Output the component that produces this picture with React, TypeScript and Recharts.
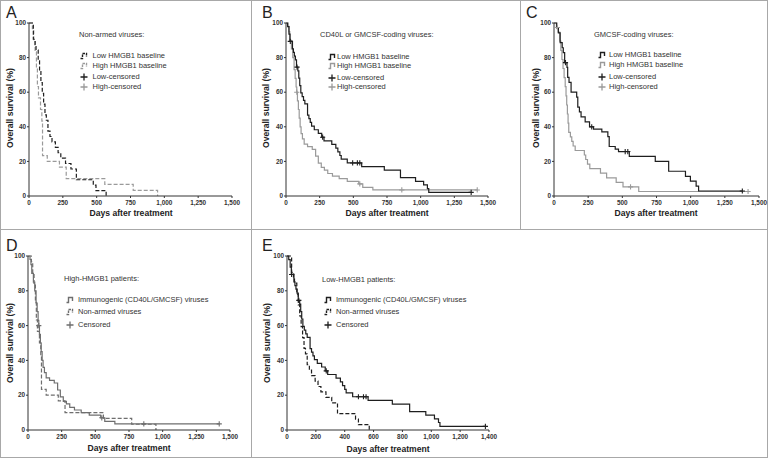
import React from 'react';
import { LineChart, Line, XAxis, YAxis } from 'recharts';

type Pt = { x: number; y: number };

// ---- Data (days after treatment, overall survival %) ----
const lowNonArmed: Pt[] = [
  { x: 0, y: 100 }, { x: 32, y: 90.6 }, { x: 45, y: 87.5 }, { x: 52, y: 84.4 }, { x: 68, y: 78.1 },
  { x: 78, y: 71.9 }, { x: 88, y: 65.6 }, { x: 98, y: 59.4 }, { x: 108, y: 53.1 }, { x: 118, y: 46.9 },
  { x: 128, y: 43.8 }, { x: 140, y: 37.5 }, { x: 155, y: 34.4 }, { x: 170, y: 31.3 }, { x: 195, y: 28.1 },
  { x: 215, y: 25 }, { x: 235, y: 21.9 }, { x: 270, y: 18.8 }, { x: 310, y: 15.6 }, { x: 350, y: 9.4 },
  { x: 475, y: 6.3 }, { x: 495, y: 3.1 }, { x: 570, y: 0 },
];
const highNonArmed: Pt[] = [
  { x: 0, y: 100 }, { x: 25, y: 96.7 }, { x: 35, y: 90 }, { x: 45, y: 83.3 }, { x: 55, y: 73.3 },
  { x: 62, y: 63.3 }, { x: 70, y: 56.7 }, { x: 85, y: 50 }, { x: 95, y: 43.3 }, { x: 100, y: 23.3 },
  { x: 135, y: 20 }, { x: 225, y: 16.7 }, { x: 275, y: 10 }, { x: 560, y: 6.7 }, { x: 770, y: 3.3 },
  { x: 950, y: 0 },
];
const lowImmuno: Pt[] = [
  { x: 0, y: 100 }, { x: 12, y: 97.9 }, { x: 22, y: 93.6 }, { x: 30, y: 89.4 }, { x: 48, y: 85.1 },
  { x: 55, y: 83 }, { x: 62, y: 80.9 }, { x: 70, y: 78.7 }, { x: 78, y: 74.5 }, { x: 88, y: 72.3 },
  { x: 95, y: 68.1 }, { x: 102, y: 63.8 }, { x: 110, y: 59.6 }, { x: 120, y: 57.4 }, { x: 130, y: 55.3 },
  { x: 140, y: 53.2 }, { x: 160, y: 46.8 }, { x: 170, y: 44.7 }, { x: 180, y: 42.6 }, { x: 190, y: 40.4 },
  { x: 210, y: 38.3 }, { x: 240, y: 36.2 }, { x: 265, y: 34 }, { x: 282, y: 31.9 }, { x: 340, y: 29.8 },
  { x: 370, y: 27.7 }, { x: 385, y: 25.5 }, { x: 400, y: 23.4 }, { x: 410, y: 21.3 }, { x: 455, y: 19.1 },
  { x: 562, y: 17 }, { x: 730, y: 14.9 }, { x: 850, y: 10.6 }, { x: 962, y: 8.5 }, { x: 1022, y: 6.4 },
  { x: 1050, y: 4.3 }, { x: 1060, y: 2.1 }, { x: 1375, y: 2.1 },
];
const lowImmunoCensor: Pt[] = [
  { x: 32, y: 89.4 }, { x: 82, y: 74.5 }, { x: 272, y: 34 }, { x: 495, y: 19.1 }, { x: 530, y: 19.1 },
  { x: 548, y: 19.1 }, { x: 1375, y: 2.1 },
];
const highImmuno: Pt[] = [
  { x: 0, y: 100 }, { x: 15, y: 98 }, { x: 22, y: 95 }, { x: 28, y: 90 }, { x: 40, y: 85 },
  { x: 50, y: 80 }, { x: 60, y: 73 }, { x: 68, y: 68 }, { x: 75, y: 63 }, { x: 80, y: 60 },
  { x: 85, y: 55 }, { x: 92, y: 50 }, { x: 98, y: 45 }, { x: 105, y: 40 }, { x: 112, y: 36 },
  { x: 122, y: 33 }, { x: 135, y: 30 }, { x: 160, y: 28.5 }, { x: 195, y: 27 }, { x: 220, y: 23 },
  { x: 240, y: 19 }, { x: 262, y: 16.5 }, { x: 285, y: 15 }, { x: 310, y: 13 }, { x: 345, y: 11.5 },
  { x: 395, y: 10 }, { x: 455, y: 8.5 }, { x: 540, y: 7 }, { x: 570, y: 5 }, { x: 645, y: 3.5 },
  { x: 1420, y: 3.5 },
];
const highImmunoCensor: Pt[] = [
  { x: 80, y: 60 }, { x: 548, y: 7 }, { x: 860, y: 3.5 }, { x: 1420, y: 3.5 },
];
const lowGmcsf: Pt[] = [
  { x: 0, y: 100 }, { x: 20, y: 97.1 }, { x: 32, y: 94.3 }, { x: 45, y: 88.6 }, { x: 60, y: 85.7 },
  { x: 68, y: 82.9 }, { x: 78, y: 77.1 }, { x: 95, y: 74.3 }, { x: 100, y: 68.6 }, { x: 110, y: 65.7 },
  { x: 125, y: 60 }, { x: 166, y: 57.1 }, { x: 174, y: 51.4 }, { x: 186, y: 48.6 }, { x: 198, y: 45.7 },
  { x: 228, y: 42.9 }, { x: 260, y: 40 }, { x: 289, y: 38.6 }, { x: 350, y: 37.1 }, { x: 394, y: 34.3 },
  { x: 404, y: 28.6 }, { x: 448, y: 27.1 }, { x: 472, y: 25.7 }, { x: 551, y: 22.9 }, { x: 741, y: 20 },
  { x: 839, y: 14.3 }, { x: 962, y: 11.4 }, { x: 998, y: 8.6 }, { x: 1040, y: 5.7 }, { x: 1058, y: 2.9 },
  { x: 1378, y: 2.9 },
];
const lowGmcsfCensor: Pt[] = [
  { x: 84, y: 77.1 }, { x: 276, y: 40 }, { x: 521, y: 25.7 }, { x: 540, y: 25.7 }, { x: 1378, y: 2.9 },
];
const highGmcsf: Pt[] = [
  { x: 0, y: 100 }, { x: 18, y: 97.4 }, { x: 30, y: 94.7 }, { x: 42, y: 89.5 }, { x: 50, y: 84.2 },
  { x: 58, y: 78.9 }, { x: 66, y: 73.7 }, { x: 74, y: 68.4 }, { x: 82, y: 63.2 }, { x: 88, y: 57.9 },
  { x: 93, y: 52.6 }, { x: 98, y: 47.4 }, { x: 103, y: 42.1 }, { x: 108, y: 36.8 }, { x: 120, y: 34.2 },
  { x: 130, y: 31.6 }, { x: 140, y: 28.9 }, { x: 155, y: 26.3 }, { x: 222, y: 23.7 }, { x: 232, y: 21.1 },
  { x: 245, y: 18.4 }, { x: 262, y: 15.8 }, { x: 340, y: 13.2 }, { x: 385, y: 10.5 }, { x: 455, y: 7.9 },
  { x: 505, y: 5.3 }, { x: 620, y: 2.6 }, { x: 1420, y: 2.6 },
];
const highGmcsfCensor: Pt[] = [
  { x: 25, y: 97.4 }, { x: 560, y: 5.3 }, { x: 1420, y: 2.6 },
];

const yTicks = [0, 20, 40, 60, 80, 100];
const xTicks1500 = [0, 250, 500, 750, 1000, 1250, 1500];
const xTicks1400 = [0, 200, 400, 600, 800, 1000, 1200, 1400];

const DARK = '#1e1e1e';
const GRAY = '#9a9a9a';
const MID = '#6e6e6e';
const FONT = '"Liberation Sans", Arial, sans-serif';

const fmt = (v: number) => v.toLocaleString('en-US');

type SeriesDef = { data: Pt[]; color: string; dashed?: boolean };
type CensorDef = { data: Pt[]; color: string };

const crossDot = (color: string) => (p: any) => {
  const { cx, cy, index } = p;
  if (cx == null || cy == null) return <g key={index} />;
  return (
    <path key={index} d={`M${cx - 2.6},${cy}h5.2M${cx},${cy - 2.6}v5.2`} stroke={color} strokeWidth={1.1} fill="none" />
  );
};

const tickStyle = { fontSize: 6.4, fontWeight: 700, fill: '#333', fontFamily: FONT };

function Panel(props: {
  left: number; top: number; width: number; height: number;
  margin: { top: number; right: number; bottom: number; left: number };
  yAxisWidth: number; xMax: number; xTicks: number[];
  series: SeriesDef[]; censors: CensorDef[];
}) {
  const { left, top, width, height, margin, yAxisWidth, xMax, xTicks, series, censors } = props;
  return (
    <div style={{ position: 'absolute', left, top }}>
      <LineChart width={width} height={height} margin={margin}>
        <XAxis type="number" dataKey="x" domain={[0, xMax]} ticks={xTicks} interval={0}
          tickFormatter={fmt} tick={tickStyle} tickSize={2} tickMargin={2} stroke="#333" height={20} allowDataOverflow />
        <YAxis type="number" domain={[0, 100]} ticks={yTicks} interval={0} width={yAxisWidth}
          tick={tickStyle} tickSize={2} tickMargin={1} stroke="#333" />
        {series.map((s, i) => (
          <Line key={'s' + i} data={s.data} dataKey="y" type="stepAfter" stroke={s.color} strokeWidth={1.2}
            strokeDasharray={s.dashed ? '4 2' : undefined} dot={false} activeDot={false} isAnimationActive={false} />
        ))}
        {censors.map((c, i) => (
          <Line key={'c' + i} data={c.data} dataKey="y" stroke="none" dot={crossDot(c.color)} activeDot={false}
            isAnimationActive={false} />
        ))}
      </LineChart>
    </div>
  );
}

function Txt(props: { x: number; y: number; size: number; bold?: boolean; rotate?: boolean; color?: string; center?: boolean; children: React.ReactNode }) {
  const { x, y, size, bold, rotate, color, center, children } = props;
  const tf = center || rotate ? `translate(-50%,-50%)${rotate ? ' rotate(-90deg)' : ''}` : 'translate(0,-50%)';
  return (
    <div style={{
      position: 'absolute', left: x, top: y, transform: tf, fontSize: size, fontWeight: bold ? 700 : 400,
      color: color || '#222', fontFamily: FONT, whiteSpace: 'nowrap', lineHeight: 1,
    }}>{children}</div>
  );
}

function StepIcon({ x, y, color, dashed }: { x: number; y: number; color: string; dashed?: boolean }) {
  return (
    <svg style={{ position: 'absolute', left: x, top: y - 4 }} width={8} height={8}>
      <path d="M0.5,6.5 H2.5 V1.5 H6.5 V5" stroke={color} strokeWidth={1.4} fill="none"
        strokeDasharray={dashed ? '2.5 1' : undefined} />
    </svg>
  );
}
function PlusIcon({ x, y, color }: { x: number; y: number; color: string }) {
  return (
    <svg style={{ position: 'absolute', left: x, top: y - 4 }} width={8} height={8}>
      <path d="M0.5,4 H7.5 M4,0.5 V7.5" stroke={color} strokeWidth={1.3} fill="none" />
    </svg>
  );
}

function Legend(props: { x: number; iconX: number; textX: number; rows: number[]; titleY: number; title: string;
  items: { label: string; kind: 'step' | 'plus'; color: string; dashed?: boolean }[] }) {
  const { x, iconX, textX, rows, titleY, title, items } = props;
  return (
    <>
      <Txt x={x} y={titleY} size={7.5} color="#333">{title}</Txt>
      {items.map((it, i) => (
        <React.Fragment key={i}>
          {it.kind === 'step'
            ? <StepIcon x={iconX} y={rows[i]} color={it.color} dashed={it.dashed} />
            : <PlusIcon x={iconX} y={rows[i]} color={it.color} />}
          <Txt x={textX} y={rows[i]} size={7.5} color="#333">{it.label}</Txt>
        </React.Fragment>
      ))}
    </>
  );
}

const BORDER = '#a8a8a8';

export default function App() {
  return (
    <div style={{ position: 'relative', width: 768, height: 458, background: '#fff', overflow: 'hidden' }}>
      <style>{'body{margin:0}'}</style>
      {/* frame */}
      <div style={{ position: 'absolute', left: 0, top: 0, width: 766, height: 456, border: `1px solid ${BORDER}` }} />
      <div style={{ position: 'absolute', left: 251, top: 0, width: 1, height: 458, background: BORDER }} />
      <div style={{ position: 'absolute', left: 520, top: 0, width: 1, height: 229, background: BORDER }} />
      <div style={{ position: 'absolute', left: 0, top: 229, width: 768, height: 1, background: BORDER }} />

      {/* Panel A */}
      <Panel left={0} top={0} width={252} height={229} margin={{ top: 23, right: 20, bottom: 13, left: 0 }}
        yAxisWidth={29} xMax={1500} xTicks={xTicks1500}
        series={[{ data: highNonArmed, color: GRAY, dashed: true }, { data: lowNonArmed, color: DARK, dashed: true }]}
        censors={[]} />
      <Txt x={6} y={12.5} size={16}>A</Txt>
      <Txt x={10} y={108} size={8.6} bold rotate>Overall survival (%)</Txt>
      <Txt x={131} y={213} size={8.6} bold center>Days after treatment</Txt>
      <Legend x={79} iconX={80} textX={92.5} titleY={34.5} rows={[55.5, 65.5, 77.3, 87.3]} title="Non-armed viruses:"
        items={[
          { label: 'Low HMGB1 baseline', kind: 'step', color: DARK, dashed: true },
          { label: 'High HMGB1 baseline', kind: 'step', color: GRAY, dashed: true },
          { label: 'Low-censored', kind: 'plus', color: DARK },
          { label: 'High-censored', kind: 'plus', color: GRAY },
        ]} />

      {/* Panel B */}
      <Panel left={252} top={0} width={268} height={229} margin={{ top: 23, right: 32, bottom: 13, left: 0 }}
        yAxisWidth={34} xMax={1500} xTicks={xTicks1500}
        series={[{ data: highImmuno, color: GRAY }, { data: lowImmuno, color: DARK }]}
        censors={[{ data: highImmunoCensor, color: GRAY }, { data: lowImmunoCensor, color: DARK }]} />
      <Txt x={262} y={12.5} size={16}>B</Txt>
      <Txt x={266} y={108} size={8.6} bold rotate>Overall survival (%)</Txt>
      <Txt x={387} y={213} size={8.6} bold center>Days after treatment</Txt>
      <Legend x={320} iconX={327.5} textX={337} titleY={34.5} rows={[56.5, 65.7, 77.5, 87.3]} title="CD40L or GMCSF-coding viruses:"
        items={[
          { label: 'Low HMGB1 baseline', kind: 'step', color: DARK },
          { label: 'High HMGB1 baseline', kind: 'step', color: GRAY },
          { label: 'Low-censored', kind: 'plus', color: DARK },
          { label: 'High-censored', kind: 'plus', color: GRAY },
        ]} />

      {/* Panel C */}
      <Panel left={520} top={0} width={248} height={229} margin={{ top: 23, right: 9, bottom: 13, left: 0 }}
        yAxisWidth={34} xMax={1500} xTicks={xTicks1500}
        series={[{ data: highGmcsf, color: GRAY }, { data: lowGmcsf, color: DARK }]}
        censors={[{ data: highGmcsfCensor, color: GRAY }, { data: lowGmcsfCensor, color: DARK }]} />
      <Txt x={526} y={12.5} size={16}>C</Txt>
      <Txt x={536} y={108} size={8.6} bold rotate>Overall survival (%)</Txt>
      <Txt x={656} y={213} size={8.6} bold center>Days after treatment</Txt>
      <Legend x={594} iconX={598} textX={609} titleY={35} rows={[54.5, 65.3, 77.3, 87.3]} title="GMCSF-coding viruses:"
        items={[
          { label: 'Low HMGB1 baseline', kind: 'step', color: DARK },
          { label: 'High HMGB1 baseline', kind: 'step', color: GRAY },
          { label: 'Low-censored', kind: 'plus', color: DARK },
          { label: 'High-censored', kind: 'plus', color: GRAY },
        ]} />

      {/* Panel D */}
      <Panel left={0} top={229} width={252} height={229} margin={{ top: 27, right: 22, bottom: 8, left: 0 }}
        yAxisWidth={28} xMax={1500} xTicks={xTicks1500}
        series={[{ data: highNonArmed, color: MID, dashed: true }, { data: highImmuno, color: MID }]}
        censors={[{ data: highImmunoCensor, color: MID }]} />
      <Txt x={6} y={245.5} size={16}>D</Txt>
      <Txt x={10} y={343} size={8.6} bold rotate>Overall survival (%)</Txt>
      <Txt x={129} y={448} size={8.6} bold center>Days after treatment</Txt>
      <Legend x={64} iconX={66} textX={78} titleY={279} rows={[300, 311.5, 325]} title="High-HMGB1 patients:"
        items={[
          { label: 'Immunogenic (CD40L/GMCSF) viruses', kind: 'step', color: MID },
          { label: 'Non-armed viruses', kind: 'step', color: MID, dashed: true },
          { label: 'Censored', kind: 'plus', color: MID },
        ]} />

      {/* Panel E */}
      <Panel left={252} top={229} width={516} height={229} margin={{ top: 27, right: 279, bottom: 8, left: 0 }}
        yAxisWidth={35} xMax={1400} xTicks={xTicks1400}
        series={[{ data: lowNonArmed, color: DARK, dashed: true }, { data: lowImmuno, color: DARK }]}
        censors={[{ data: lowImmunoCensor, color: DARK }]} />
      <Txt x={262} y={245.5} size={16}>E</Txt>
      <Txt x={267} y={343} size={8.6} bold rotate>Overall survival (%)</Txt>
      <Txt x={388} y={448.5} size={8.6} bold center>Days after treatment</Txt>
      <Legend x={322} iconX={324} textX={336} titleY={280} rows={[300, 311.7, 325]} title="Low-HMGB1 patients:"
        items={[
          { label: 'Immunogenic (CD40L/GMCSF) viruses', kind: 'step', color: DARK },
          { label: 'Non-armed viruses', kind: 'step', color: DARK, dashed: true },
          { label: 'Censored', kind: 'plus', color: DARK },
        ]} />
    </div>
  );
}
